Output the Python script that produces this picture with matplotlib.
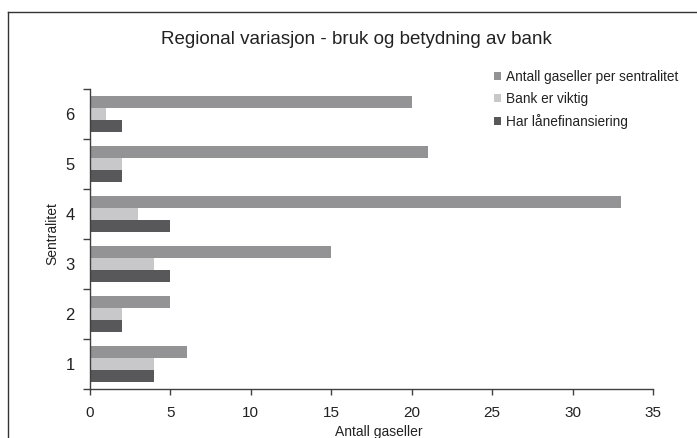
import matplotlib
matplotlib.use("Agg")
import matplotlib.pyplot as plt
from matplotlib import font_manager
from matplotlib.lines import Line2D
import numpy as np

categories = [1, 2, 3, 4, 5, 6]
antall = [6, 5, 15, 33, 21, 20]
bank_viktig = [4, 2, 4, 3, 2, 1]
lanefin = [4, 2, 5, 5, 2, 2]
series_names = ["Antall gaseller per sentralitet", "Bank er viktig", "Har lånefinansiering"]
colors = ["#939396", "#c8c8ca", "#58585a"]
xticks = [0, 5, 10, 15, 20, 25, 30, 35]

names = {f.name for f in font_manager.fontManager.ttflist}
fam = "Liberation Sans Narrow" if "Liberation Sans Narrow" in names else "Liberation Sans"
plt.rcParams["font.family"] = [fam, "DejaVu Sans"]
txt = "#222222"

W, H = 697, 438
fig = plt.figure(figsize=(W / 100, H / 100), dpi=100)
ax = fig.add_axes([90 / W, (H - 389) / H, (653 - 90) / W, 300 / H])

y = np.array(categories, dtype=float)
h = 0.245
bars = []
for off, vals, c in zip([h, 0, -h], [antall, bank_viktig, lanefin], colors):
    bars.append(ax.barh(y + off, vals, height=h, color=c, edgecolor="none"))

ax.set_xlim(0, 35)
ax.set_ylim(0.5, 6.5)
ax.set_xticks(xticks)
ax.set_xticklabels([str(v) for v in xticks], fontsize=11, color=txt)
ax.set_yticks(np.arange(0.5, 7.0, 1.0))
ax.set_yticklabels([])
ax.set_yticks(y, minor=True)
ax.set_yticklabels([str(c) for c in categories], minor=True, fontsize=12, color=txt)
ax.tick_params(axis="y", which="major", length=5, width=1, color="#404040", direction="out")
ax.tick_params(axis="y", which="minor", length=0, pad=11)
ax.tick_params(axis="x", which="major", length=4, width=1, color="#404040", direction="out", pad=8)
for s in ["top", "right"]:
    ax.spines[s].set_visible(False)
for s in ["left", "bottom"]:
    ax.spines[s].set_color("#404040")
    ax.spines[s].set_linewidth(1)

fig.text(379 / W, 1 - 432 / H, "Antall gaseller", ha="center", va="center", fontsize=10, color=txt)
fig.text(52 / W, 1 - 234 / H, "Sentralitet", ha="center", va="center", rotation=90, fontsize=10, color=txt)
fig.text(356 / W, 1 - 40 / H, "Regional variasjon - bruk og betydning av bank", ha="center", va="center",
         fontsize=13.5, color=txt)

fig.legend([b for b in bars], series_names, loc="upper left", bbox_to_anchor=(494 / W, 1 - 70 / H),
           frameon=False, fontsize=9.8, handlelength=0.55, handleheight=0.55, handletextpad=0.35,
           labelspacing=0.58, borderaxespad=0, borderpad=0, labelcolor=txt)

fig.add_artist(Line2D([8 / W, 8 / W], [0, 1 - 12 / H], transform=fig.transFigure, color="#333333", lw=1))
fig.add_artist(Line2D([8 / W, 1], [1 - 12 / H, 1 - 12 / H], transform=fig.transFigure, color="#333333", lw=1))

fig.savefig("out.png", dpi=100)
